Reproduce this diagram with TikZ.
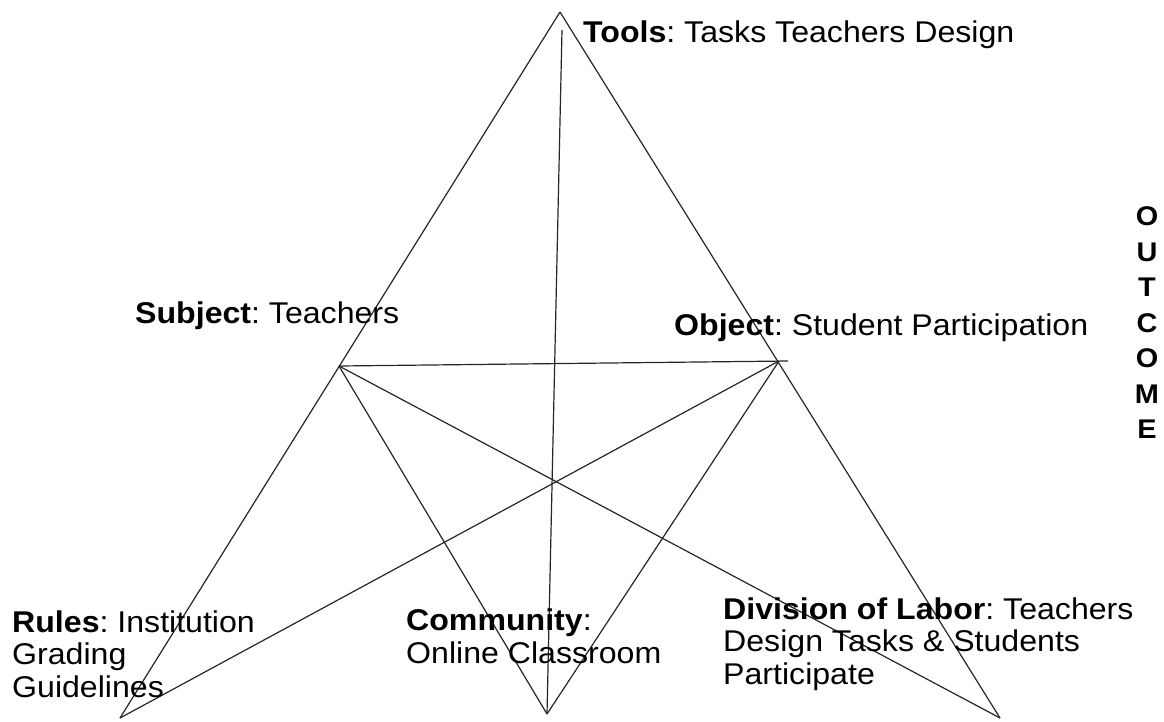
\documentclass[tikz,border=0pt]{standalone}
\usepackage{fontspec}
\setmainfont{Liberation Sans}[FakeStretch=1.07]
\begin{document}
\frenchspacing
\begin{tikzpicture}[x=1pt,y=-1pt,
  edge/.style={draw=black!85,line width=1.2pt},
  lbl/.style={anchor=base west,inner sep=0pt,font=\fontsize{30}{32.5}\selectfont,align=left},
  vert/.style={inner sep=0pt,font=\bfseries\fontsize{27}{35.5}\selectfont,align=center}]
\useasboundingbox (0,0) rectangle (1164,721);
\fill[white] (0,0) rectangle (1164,721);
% vertices
\coordinate (A) at (560,12);
\coordinate (S) at (339,366);
\coordinate (O) at (779,361);
\coordinate (Oe) at (788,361);
\coordinate (V) at (562,30);
\coordinate (BL) at (120,718);
\coordinate (BM) at (547,714);
\coordinate (BR) at (1000,718);
% connectors
\draw[edge] (A) -- (BL);
\draw[edge] (A) -- (BR);
\draw[edge] (V) -- (BM);
\draw[edge] (S) -- (Oe);
\draw[edge] (S) -- (BM);
\draw[edge] (S) -- (BR);
\draw[edge] (O) -- (BL);
\draw[edge] (O) -- (BM);
% labels (multi-line nodes are anchored at the baseline of their last line)
\node[lbl] (tools) at (583,42) {\textbf{Tools}: Tasks Teachers Design};
\node[lbl] (subj) at (135,323) {\textbf{Subject}: Teachers};
\node[lbl] (obj) at (674,335) {\textbf{Object}: Student Participation};
\node[lbl] (rules) at (12,697) {\textbf{Rules}: Institution\\Grading\\Guidelines};
\node[lbl] (comm) at (406,663) {\textbf{Community}:\\Online Classroom};
\node[lbl] (div) at (723,684) {\textbf{Division of Labor}: Teachers\\Design Tasks \& Students\\Participate};
\node[vert] (outcome) at (1147,323) {O\\U\\T\\C\\O\\M\\E};
\end{tikzpicture}
\end{document}
